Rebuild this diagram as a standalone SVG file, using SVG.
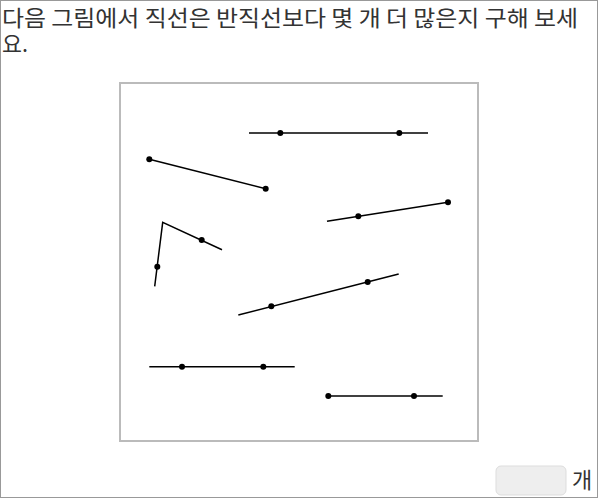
<svg xmlns="http://www.w3.org/2000/svg" width="598" height="498" viewBox="0 0 598 498">
<style>
.t{font-family:"Noto Sans CJK KR","Noto Sans",sans-serif;font-size:22px;fill:#333}
.ln{stroke:#000;stroke-width:1.5;fill:none}
.pt{fill:#000}
</style>
<rect x="0.5" y="0.5" width="597" height="497" fill="#fff" stroke="#999"/>
<g id="question">
<text class="t" x="2" y="26" textLength="576" lengthAdjust="spacingAndGlyphs">다음 그림에서 직선은 반직선보다 몇 개 더 많은지 구해 보세</text>
<text class="t" x="2" y="52" textLength="26" lengthAdjust="spacingAndGlyphs">요.</text>
</g>
<rect id="frame" x="120" y="83" width="358" height="358" fill="#fff" stroke="#bbb" stroke-width="2"/>
<g id="connectors">
<line class="ln" x1="249" y1="133" x2="428" y2="133"/>
<line class="ln" x1="149.3" y1="159.3" x2="265.7" y2="188.7"/>
<line class="ln" x1="448" y1="202.3" x2="327" y2="221.3"/>
<polyline class="ln" points="222,249.7 162.7,222.3 154.7,286.3"/>
<line class="ln" x1="238.3" y1="315" x2="398.7" y2="274"/>
<line class="ln" x1="149.3" y1="366.7" x2="294.7" y2="366.7"/>
<line class="ln" x1="328.3" y1="396" x2="442.7" y2="396"/>
</g>
<g id="points">
<circle class="pt" cx="280.3" cy="133" r="3"/>
<circle class="pt" cx="399.3" cy="133" r="3"/>
<circle class="pt" cx="149.3" cy="159.3" r="3"/>
<circle class="pt" cx="265.7" cy="188.7" r="3"/>
<circle class="pt" cx="358.3" cy="216.3" r="3"/>
<circle class="pt" cx="448" cy="202.3" r="3"/>
<circle class="pt" cx="201.7" cy="240" r="3"/>
<circle class="pt" cx="157.3" cy="266.7" r="3"/>
<circle class="pt" cx="271.3" cy="306.3" r="3"/>
<circle class="pt" cx="367.7" cy="282" r="3"/>
<circle class="pt" cx="182" cy="366.7" r="3"/>
<circle class="pt" cx="263.3" cy="366.7" r="3"/>
<circle class="pt" cx="328.3" cy="396" r="3"/>
<circle class="pt" cx="414" cy="396" r="3"/>
</g>
<g id="answer">
<rect x="496" y="466" width="70" height="29" rx="5" fill="#eee" stroke="#ddd"/>
<text class="t" x="572" y="488">개</text>
</g>
</svg>
